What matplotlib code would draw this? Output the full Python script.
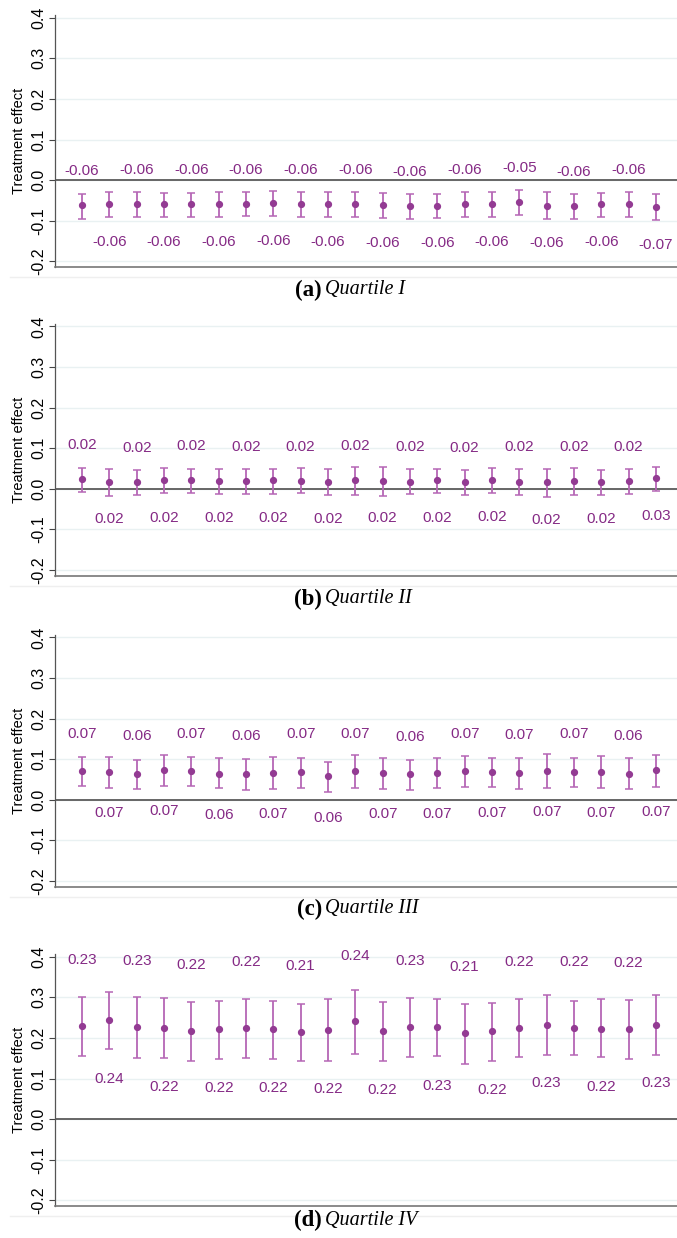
import numpy as np
import matplotlib
matplotlib.use("Agg")
from matplotlib import pyplot as plt

plt.rcParams['font.family'] = ['Liberation Sans', 'DejaVu Sans']

# point estimates and 95% CI bounds, 22 specifications per quartile
q1_est = [-0.062, -0.059, -0.058, -0.059, -0.059, -0.059, -0.058, -0.056, -0.059, -0.059, -0.058,
          -0.062, -0.063, -0.063, -0.058, -0.059, -0.054, -0.063, -0.063, -0.059, -0.058, -0.066]
q1_lo = [-0.096, -0.091, -0.090, -0.092, -0.092, -0.092, -0.089, -0.088, -0.090, -0.091, -0.091,
         -0.093, -0.095, -0.093, -0.090, -0.092, -0.086, -0.096, -0.095, -0.092, -0.090, -0.097]
q1_hi = [-0.034, -0.030, -0.029, -0.031, -0.031, -0.030, -0.030, -0.028, -0.030, -0.030, -0.029,
         -0.032, -0.033, -0.034, -0.030, -0.030, -0.024, -0.030, -0.033, -0.031, -0.030, -0.034]

q2_est = [0.023, 0.018, 0.017, 0.021, 0.021, 0.019, 0.020, 0.021, 0.020, 0.018, 0.021,
          0.020, 0.018, 0.021, 0.017, 0.022, 0.018, 0.016, 0.020, 0.017, 0.020, 0.026]
q2_lo = [-0.007, -0.017, -0.016, -0.011, -0.011, -0.013, -0.012, -0.012, -0.011, -0.015, -0.016,
         -0.017, -0.013, -0.011, -0.016, -0.011, -0.016, -0.020, -0.015, -0.016, -0.013, -0.005]
q2_hi = [0.051, 0.048, 0.047, 0.051, 0.049, 0.048, 0.049, 0.050, 0.051, 0.048, 0.053,
         0.053, 0.048, 0.050, 0.046, 0.051, 0.048, 0.048, 0.051, 0.046, 0.049, 0.054]

q3_est = [0.071, 0.069, 0.064, 0.074, 0.071, 0.064, 0.064, 0.067, 0.069, 0.058, 0.071,
          0.067, 0.063, 0.067, 0.071, 0.069, 0.067, 0.072, 0.069, 0.069, 0.064, 0.073]
q3_lo = [0.034, 0.029, 0.026, 0.035, 0.033, 0.029, 0.024, 0.026, 0.030, 0.020, 0.029,
         0.027, 0.024, 0.028, 0.031, 0.031, 0.027, 0.029, 0.032, 0.030, 0.026, 0.032]
q3_hi = [0.106, 0.106, 0.098, 0.111, 0.106, 0.102, 0.100, 0.105, 0.103, 0.093, 0.111,
         0.104, 0.098, 0.104, 0.108, 0.104, 0.103, 0.112, 0.104, 0.107, 0.102, 0.110]

q4_est = [0.230, 0.244, 0.228, 0.224, 0.217, 0.221, 0.224, 0.221, 0.214, 0.220, 0.241,
          0.217, 0.228, 0.226, 0.212, 0.217, 0.224, 0.233, 0.224, 0.223, 0.223, 0.233]
q4_lo = [0.156, 0.173, 0.151, 0.151, 0.142, 0.149, 0.151, 0.147, 0.142, 0.142, 0.160,
         0.142, 0.153, 0.155, 0.137, 0.143, 0.153, 0.157, 0.158, 0.153, 0.148, 0.157]
q4_hi = [0.300, 0.314, 0.302, 0.299, 0.289, 0.291, 0.295, 0.292, 0.283, 0.295, 0.317,
         0.289, 0.299, 0.297, 0.284, 0.287, 0.295, 0.306, 0.291, 0.296, 0.294, 0.306]

panels = [("(a)", "Quartile I", q1_est, q1_lo, q1_hi, 0.084, -0.093),
          ("(b)", "Quartile II", q2_est, q2_lo, q2_hi, 0.084, -0.092),
          ("(c)", "Quartile III", q3_est, q3_lo, q3_hi, 0.092, -0.102),
          ("(d)", "Quartile IV", q4_est, q4_lo, q4_hi, 0.162, -0.145)]

yticks = [-0.2, -0.1, 0.0, 0.1, 0.2, 0.3, 0.4]
ytick_labels = ["-0.2", "-0.1", "0.0", "0.1", "0.2", "0.3", "0.4"]

W, H = 677, 1238
fig = plt.figure(figsize=(W / 100, H / 100), dpi=100)

bottoms = [267, 575.7, 886.7, 1206]   # pixel row of each x axis
title_y = [290, 599, 909, 1220]
ax_h = 251.7
left = 55

mark_col = "#933b93"
bar_col = "#b566b5"
lab_col = "#852a85"

for (tag, name, est, lo, hi, off_up, off_dn), b, ty in zip(panels, bottoms, title_y):
    ax = fig.add_axes([left / W, 1 - b / H, (W - left) / W, ax_h / H])
    x = np.arange(len(est))
    est = np.array(est)
    err = np.vstack([est - np.array(lo), np.array(hi) - est])

    for t in yticks:
        ax.axhline(t, color="#e9f1f2", lw=1.0, zorder=0)
    ax.axhline(0, color="#666666", lw=1.4, zorder=1)

    ax.errorbar(x, est, yerr=err, fmt="none", ecolor=bar_col, elinewidth=1.3,
                capsize=2.6, capthick=1.1, zorder=2)
    ax.plot(x, est, "o", color=mark_col, ms=4.2, zorder=3)

    for i, v in enumerate(est):
        yy = v + (off_up if i % 2 == 0 else off_dn)
        ax.text(i, yy, f"{v:.2f}", ha="center", va="center", color=lab_col, fontsize=11)

    ax.set_xlim(-0.99, 21.77)
    ax.set_ylim(-0.214, 0.406)
    ax.set_yticks(yticks)
    ax.set_yticklabels(ytick_labels, rotation=90, va="center", fontsize=11.5)
    ax.set_xticks([])
    ax.tick_params(axis="y", length=4, width=0.8, color="#444444", pad=2)
    ax.set_ylabel("Treatment effect", fontsize=10.5, labelpad=4)
    ax.spines["top"].set_visible(False)
    ax.spines["right"].set_visible(False)
    ax.spines["left"].set_color("#555555")
    ax.spines["bottom"].set_color("#777777")
    ax.spines["left"].set_linewidth(0.9)
    ax.spines["bottom"].set_linewidth(1.2)
    ax.patch.set_alpha(0)

    # faint graph-region border under each panel
    fig.add_artist(plt.Line2D([10 / W, 1], [1 - (b + 10) / H] * 2, color="#efefef", lw=1.0))

    fig.text(322 / W, 1 - ty / H, tag, ha="right", va="center", fontsize=16.5,
             family="Liberation Serif", weight="bold")
    fig.text(325 / W, 1 - ty / H, name, ha="left", va="center", fontsize=14.5,
             family="Liberation Serif", style="italic")

fig.savefig("out.png", dpi=100, facecolor="white")
